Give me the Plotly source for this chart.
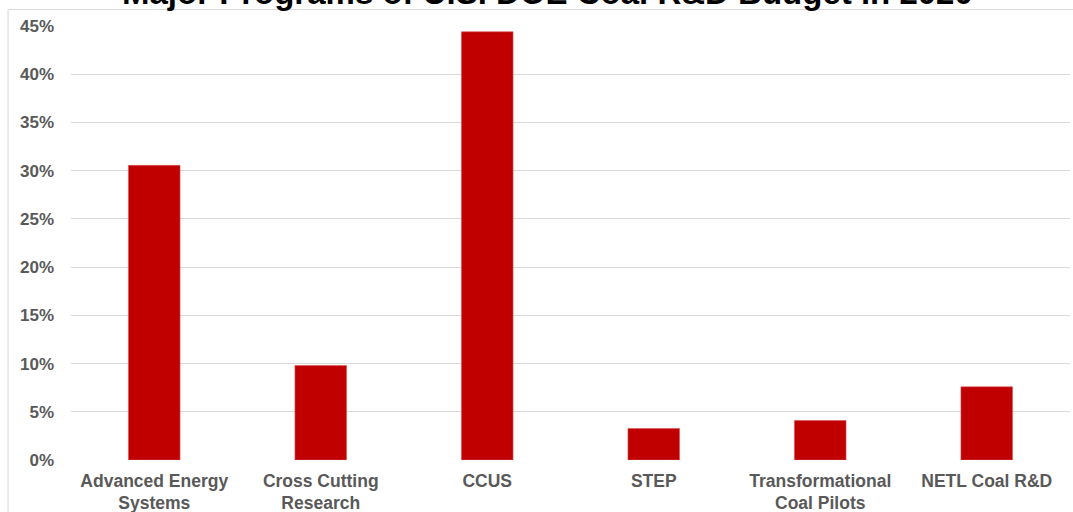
import plotly.graph_objects as go

categories = ["Advanced Energy<br>Systems", "Cross Cutting<br>Research", "CCUS", "STEP",
              "Transformational<br>Coal Pilots", "NETL Coal R&D"]
shares = [0.3055, 0.098, 0.444, 0.0327, 0.041, 0.0759]
tick_vals = [0, 0.05, 0.10, 0.15, 0.20, 0.25, 0.30, 0.35, 0.40, 0.45]
tick_text = ["0%", "5%", "10%", "15%", "20%", "25%", "30%", "35%", "40%", "45%"]
title_text = "Major Programs of U.S. DOE Coal R&D Budget in 2020"

FONT = "Arial, Liberation Sans, sans-serif"

fig = go.Figure()
fig.add_trace(go.Bar(
    x=categories, y=shares, width=0.31,
    marker=dict(color="#C00000", line=dict(color="#D9555A", width=0.6)),
    hoverinfo="x+y",
))

fig.update_layout(
    width=1073, height=512,
    margin=dict(l=71, r=3, t=26, b=52, autoexpand=False),
    paper_bgcolor="white", plot_bgcolor="white",
    showlegend=False,
    font=dict(family=FONT),
    xaxis=dict(
        tickfont=dict(family=FONT, size=17.5, color="#595959", weight="bold"),
        showgrid=False, showline=False, zeroline=False, ticks="",
        ticklabelstandoff=8, automargin=False,
    ),
    yaxis=dict(
        range=[0, 0.45], tickvals=tick_vals, ticktext=tick_text,
        tickfont=dict(family=FONT, size=17, color="#595959", weight="bold"),
        showgrid=True, gridcolor="#D9D9D9", gridwidth=1,
        zeroline=False, showline=False, ticks="", ticklabelstandoff=16,
        automargin=False,
    ),
    shapes=[dict(type="rect", xref="paper", yref="paper",
                 x0=-0.063, x1=1.01, y0=-0.3, y1=1.038,
                 line=dict(color="#D9D9D9", width=1), fillcolor="rgba(0,0,0,0)",
                 layer="below")],
    annotations=[dict(text="<b>" + title_text + "</b>", xref="paper", yref="paper",
                      x=0.477, y=1.078, xanchor="center", yanchor="middle",
                      showarrow=False, font=dict(family=FONT, size=33, color="black"))],
)

fig.write_html("out.html")
